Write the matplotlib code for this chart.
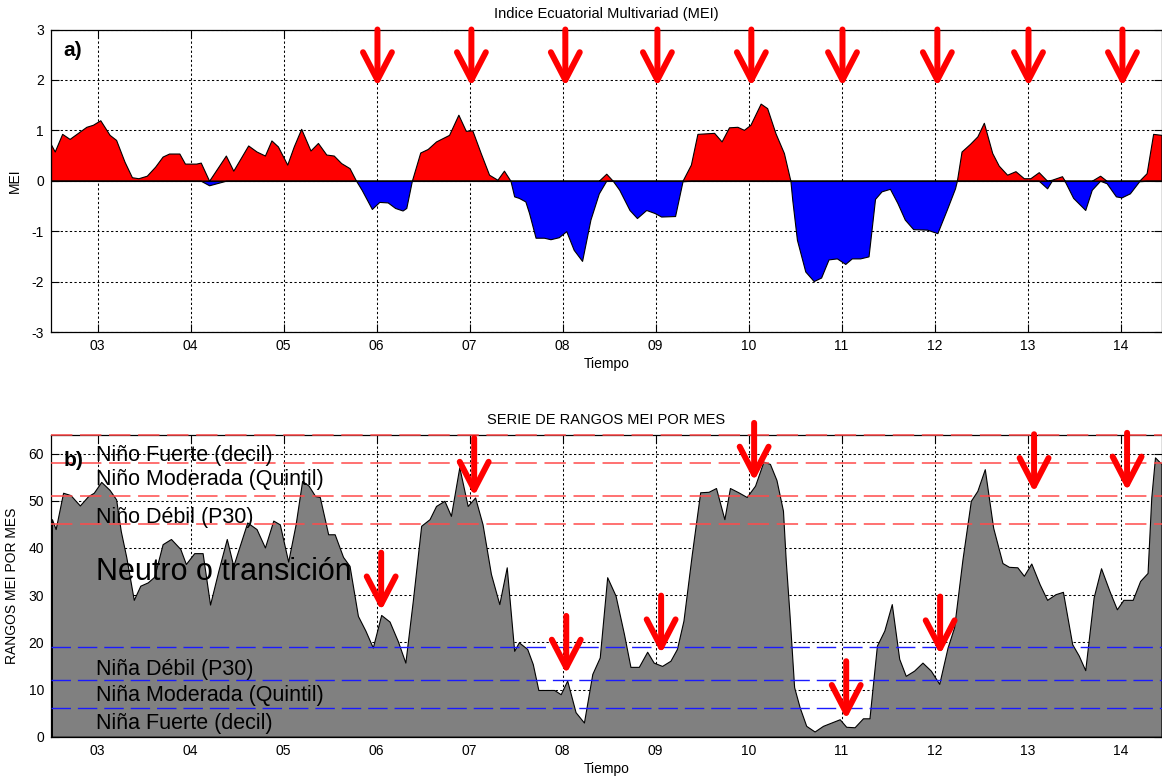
import numpy as np
import matplotlib
matplotlib.use("Agg")
import matplotlib.pyplot as plt
from matplotlib.patches import ArrowStyle

plt.rcParams["font.family"] = ["Liberation Sans", "DejaVu Sans"]
plt.rcParams["axes.unicode_minus"] = False

# ---------------- Panel a) : MEI index ----------------
years_a = [
    2002.50, 2002.54, 2002.62, 2002.70, 2002.79, 2002.88, 2002.95, 2003.03, 2003.13, 2003.20,
    2003.29, 2003.37, 2003.44, 2003.53, 2003.62, 2003.70, 2003.77, 2003.88, 2003.94, 2004.06,
    2004.11, 2004.20, 2004.38, 2004.46, 2004.62, 2004.71, 2004.80, 2004.87, 2004.94, 2005.04,
    2005.11, 2005.19, 2005.29, 2005.37, 2005.46, 2005.54, 2005.62, 2005.71, 2005.78, 2005.84,
    2005.95, 2006.03, 2006.12, 2006.20, 2006.28, 2006.32, 2006.38, 2006.47, 2006.55, 2006.64,
    2006.78, 2006.88, 2006.96, 2007.03, 2007.12, 2007.21, 2007.30, 2007.37, 2007.44, 2007.48,
    2007.53, 2007.60, 2007.64, 2007.71, 2007.80, 2007.87, 2007.96, 2008.04, 2008.12, 2008.21,
    2008.30, 2008.39, 2008.47, 2008.54, 2008.61, 2008.72, 2008.80, 2008.90, 2008.99, 2009.06,
    2009.21, 2009.29, 2009.38, 2009.45, 2009.63, 2009.71, 2009.79, 2009.88, 2009.95, 2010.02,
    2010.13, 2010.20, 2010.29, 2010.38, 2010.45, 2010.47, 2010.52, 2010.61, 2010.70, 2010.78,
    2010.86, 2010.95, 2011.04, 2011.11, 2011.20, 2011.29, 2011.36, 2011.43, 2011.52, 2011.60,
    2011.68, 2011.77, 2011.92, 2012.03, 2012.13, 2012.22, 2012.24, 2012.29, 2012.38, 2012.46,
    2012.53, 2012.62, 2012.69, 2012.78, 2012.87, 2012.96, 2013.03, 2013.12, 2013.21, 2013.26,
    2013.37, 2013.40, 2013.49, 2013.62, 2013.69, 2013.78, 2013.85, 2013.95, 2014.01, 2014.10,
    2014.20, 2014.28, 2014.35, 2014.44,
]
mei = [
    0.72, 0.58, 0.93, 0.83, 0.95, 1.07, 1.11, 1.20, 0.91, 0.81,
    0.38, 0.07, 0.05, 0.10, 0.28, 0.48, 0.54, 0.54, 0.34, 0.34,
    0.36, -0.09, 0.50, 0.20, 0.70, 0.58, 0.50, 0.80, 0.68, 0.32,
    0.68, 1.03, 0.60, 0.75, 0.52, 0.50, 0.35, 0.25, 0.00, -0.18,
    -0.56, -0.42, -0.43, -0.54, -0.59, -0.54, 0.00, 0.56, 0.63, 0.78,
    0.91, 1.31, 0.99, 1.00, 0.55, 0.12, 0.02, 0.20, 0.00, -0.31,
    -0.34, -0.41, -0.64, -1.13, -1.13, -1.16, -1.12, -1.00, -1.37, -1.59,
    -0.77, -0.25, 0.14, 0.00, -0.18, -0.58, -0.74, -0.58, -0.64, -0.71,
    -0.70, -0.01, 0.32, 0.93, 0.95, 0.78, 1.06, 1.07, 1.01, 1.11,
    1.53, 1.44, 0.94, 0.55, 0.00, -0.38, -1.17, -1.80, -1.99, -1.92,
    -1.56, -1.54, -1.65, -1.54, -1.54, -1.50, -0.36, -0.21, -0.16, -0.44,
    -0.77, -0.96, -0.97, -1.04, -0.58, -0.15, 0.00, 0.58, 0.73, 0.88,
    1.15, 0.55, 0.30, 0.12, 0.19, 0.05, 0.05, 0.17, -0.15, 0.02,
    0.09, -0.01, -0.34, -0.58, -0.18, 0.10, -0.05, -0.31, -0.33, -0.25,
    -0.01, 0.15, 0.93, 0.91,
]

# ---------------- Panel b) : monthly MEI ranks ----------------
years_b = [
    2002.51, 2002.55, 2002.63, 2002.71, 2002.81, 2002.90, 2002.96, 2003.04, 2003.13, 2003.20,
    2003.25, 2003.31, 2003.39, 2003.46, 2003.54, 2003.61, 2003.70, 2003.79, 2003.89, 2003.95,
    2004.04, 2004.13, 2004.21, 2004.30, 2004.39, 2004.46, 2004.61, 2004.71, 2004.80, 2004.89,
    2004.96, 2005.05, 2005.13, 2005.20, 2005.27, 2005.34, 2005.39, 2005.48, 2005.55, 2005.64,
    2005.71, 2005.80, 2005.88, 2005.96, 2006.05, 2006.14, 2006.23, 2006.31, 2006.39, 2006.48,
    2006.57, 2006.64, 2006.73, 2006.80, 2006.89, 2006.98, 2007.06, 2007.14, 2007.23, 2007.32,
    2007.40, 2007.48, 2007.53, 2007.62, 2007.68, 2007.74, 2007.91, 2007.98, 2008.05, 2008.14,
    2008.23, 2008.32, 2008.40, 2008.48, 2008.57, 2008.66, 2008.73, 2008.82, 2008.91, 2008.98,
    2009.07, 2009.16, 2009.23, 2009.30, 2009.39, 2009.48, 2009.57, 2009.65, 2009.74, 2009.80,
    2009.89, 2009.98, 2010.07, 2010.16, 2010.23, 2010.30, 2010.37, 2010.40, 2010.44, 2010.49,
    2010.55, 2010.62, 2010.71, 2010.80, 2010.89, 2010.98, 2011.05, 2011.14, 2011.23, 2011.30,
    2011.38, 2011.46, 2011.54, 2011.62, 2011.69, 2011.78, 2011.87, 2011.96, 2012.05, 2012.14,
    2012.21, 2012.30, 2012.39, 2012.46, 2012.54, 2012.63, 2012.73, 2012.80, 2012.89, 2012.96,
    2013.04, 2013.13, 2013.21, 2013.30, 2013.38, 2013.48, 2013.55, 2013.62, 2013.71, 2013.79,
    2013.88, 2013.96, 2014.03, 2014.13, 2014.21, 2014.29, 2014.33, 2014.37, 2014.44,
]
rank = [
    46.1, 44.0, 51.7, 51.2, 49.0, 51.0, 51.7, 54.0, 52.3, 50.3,
    43.6, 38.0, 29.0, 32.0, 32.7, 33.9, 40.8, 41.9, 39.8, 36.6,
    38.9, 38.9, 28.0, 35.2, 41.9, 36.2, 45.4, 44.0, 40.1, 45.8,
    45.0, 37.1, 45.0, 54.2, 53.2, 51.0, 50.8, 42.9, 42.9, 38.1,
    36.2, 25.6, 22.5, 18.9, 25.8, 24.4, 20.2, 15.7, 28.8, 44.7,
    46.1, 48.9, 50.0, 46.8, 57.1, 48.9, 50.7, 45.0, 34.5, 28.1,
    35.9, 18.2, 20.0, 18.6, 15.4, 9.9, 9.9, 9.0, 11.9, 5.2,
    3.0, 13.3, 16.8, 33.8, 29.9, 21.8, 14.8, 14.8, 18.0, 15.7,
    15.0, 16.1, 18.6, 24.6, 38.7, 51.8, 51.9, 52.7, 46.1, 52.7,
    51.8, 50.8, 53.2, 58.3, 57.8, 54.4, 47.9, 37.3, 26.0, 10.5,
    6.2, 2.3, 1.1, 2.3, 3.0, 3.7, 2.1, 2.0, 3.9, 3.9,
    19.3, 22.5, 28.1, 16.5, 12.9, 14.0, 15.7, 14.0, 11.2, 18.9,
    23.2, 37.6, 50.0, 52.1, 56.7, 44.3, 36.8, 36.0, 35.9, 34.1,
    36.7, 32.3, 29.0, 30.2, 30.7, 19.6, 17.2, 14.1, 29.5, 35.7,
    30.9, 27.0, 29.0, 29.0, 33.0, 34.7, 50.7, 59.2, 57.8,
]

# Class thresholds on the rank scale
nino_levels = [45, 51, 58, 64]
nina_levels = [6, 12, 19]
class_labels = ["Niño Fuerte (decil)", "Niño Moderada (Quintil)", "Niño Débil (P30)",
                "Neutro o transición",
                "Niña Débil (P30)", "Niña Moderada (Quintil)", "Niña Fuerte (decil)"]
class_label_y = [59.5, 54.6, 46.5, 35.0, 14.3, 8.7, 2.7]
class_label_size = [15.5, 15.5, 15.5, 22, 15.5, 15.5, 15.5]

# Highlighted January markers
arrows_a_x = [2006.01, 2007.02, 2008.03, 2009.02, 2010.03, 2011.01, 2012.03, 2013.01, 2014.02]
arrows_a_tip = 1.87
arrows_a_tail = 3.0
arrows_b_x = [2006.05, 2007.05, 2008.04, 2009.06, 2010.06, 2011.05, 2012.06, 2013.07, 2014.07]
arrows_b_tip = [26.7, 51.0, 13.3, 17.6, 54.2, 3.7, 17.4, 51.8, 52.1]
arrow_b_length = 12.3

year_ticks = list(range(2003, 2015))
year_labels = ["%02d" % (y % 100) for y in year_ticks]
xlim = (2002.5, 2014.44)

W, H = 1162, 779
fig = plt.figure(figsize=(W / 100, H / 100), dpi=100)
ax1 = fig.add_axes([51 / W, 1 - 332 / H, 1110.5 / W, 302.5 / H])
ax2 = fig.add_axes([51 / W, 1 - 736.7 / H, 1110.5 / W, 302 / H])

grid_style = dict(color="k", linestyle=(0, (2.2, 2.2)), linewidth=0.75)


def style_axes(ax):
    ax.set_xlim(*xlim)
    ax.set_xticks(year_ticks)
    ax.set_xticklabels(year_labels)
    ax.set_axisbelow(True)
    ax.grid(True, **grid_style)
    ax.tick_params(direction="in", top=True, right=True, length=6, width=0.8,
                   labelsize=10, pad=5)
    for s in ax.spines.values():
        s.set_linewidth(0.9)


def head_style():
    return ArrowStyle("->", head_length=20, head_width=10.4)


# ---- panel a ----
xa = np.array(years_a)
ya = np.array(mei)
style_axes(ax1)
ax1.set_ylim(-3, 3)
ax1.set_yticks(range(-3, 4))
ax1.fill_between(xa, 0, np.maximum(ya, 0), facecolor="#ff0000", edgecolor="k",
                 linewidth=0.8, zorder=2)
ax1.fill_between(xa, 0, np.minimum(ya, 0), facecolor="#0000ff", edgecolor="k",
                 linewidth=0.8, zorder=2)
ax1.axhline(0, color="k", linewidth=0.8, zorder=2.1)
ax1.set_title("Indice Ecuatorial Multivariad (MEI)", fontsize=10.5, pad=8)
ax1.set_xlabel("Tiempo", fontsize=10)
ax1.set_ylabel("MEI", fontsize=10)
ax1.xaxis.set_label_coords(0.5, -0.083)
ax1.yaxis.set_label_coords(-0.026, 0.5)
ax1.text(0.011, 0.932, "a)", transform=ax1.transAxes, fontsize=15,
         fontweight="bold", ha="left", va="center")
for x in arrows_a_x:
    ax1.annotate("", xy=(x, arrows_a_tip), xytext=(x, arrows_a_tail),
                 arrowprops=dict(arrowstyle=head_style(), color="#ff0000", lw=4.3,
                                 shrinkA=0, shrinkB=0, mutation_scale=1),
                 annotation_clip=False, zorder=5)

# ---- panel b ----
xb = np.array(years_b)
yb = np.array(rank)
style_axes(ax2)
ax2.set_ylim(0, 64)
ax2.set_yticks(range(0, 61, 10))
ax2.fill_between(xb, 0, yb, facecolor="#808080", edgecolor="k", linewidth=0.8, zorder=2)
for lv in nino_levels:
    ax2.axhline(lv, color="#ff4a4a", linewidth=1.1, dashes=(14, 5), zorder=3,
                clip_on=False)
for lv in nina_levels:
    ax2.axhline(lv, color="#1a1aff", linewidth=1.0, dashes=(14, 5), zorder=3)
for lab, yv, fs in zip(class_labels, class_label_y, class_label_size):
    ax2.text(2002.985, yv, lab, fontsize=fs, ha="left", va="center", zorder=4)
ax2.set_title("SERIE DE RANGOS MEI POR MES", fontsize=10.5, pad=8)
ax2.set_xlabel("Tiempo", fontsize=10)
ax2.set_ylabel("RANGOS MEI POR MES", fontsize=10)
ax2.xaxis.set_label_coords(0.5, -0.083)
ax2.yaxis.set_label_coords(-0.029, 0.5)
ax2.text(0.011, 0.916, "b)", transform=ax2.transAxes, fontsize=15,
         fontweight="bold", ha="left", va="center", zorder=4)
for x, tip in zip(arrows_b_x, arrows_b_tip):
    ax2.annotate("", xy=(x, tip), xytext=(x, tip + arrow_b_length),
                 arrowprops=dict(arrowstyle=head_style(), color="#ff0000", lw=4.3,
                                 shrinkA=0, shrinkB=0, mutation_scale=1),
                 annotation_clip=False, zorder=5)

fig.savefig("out.png", dpi=100)
